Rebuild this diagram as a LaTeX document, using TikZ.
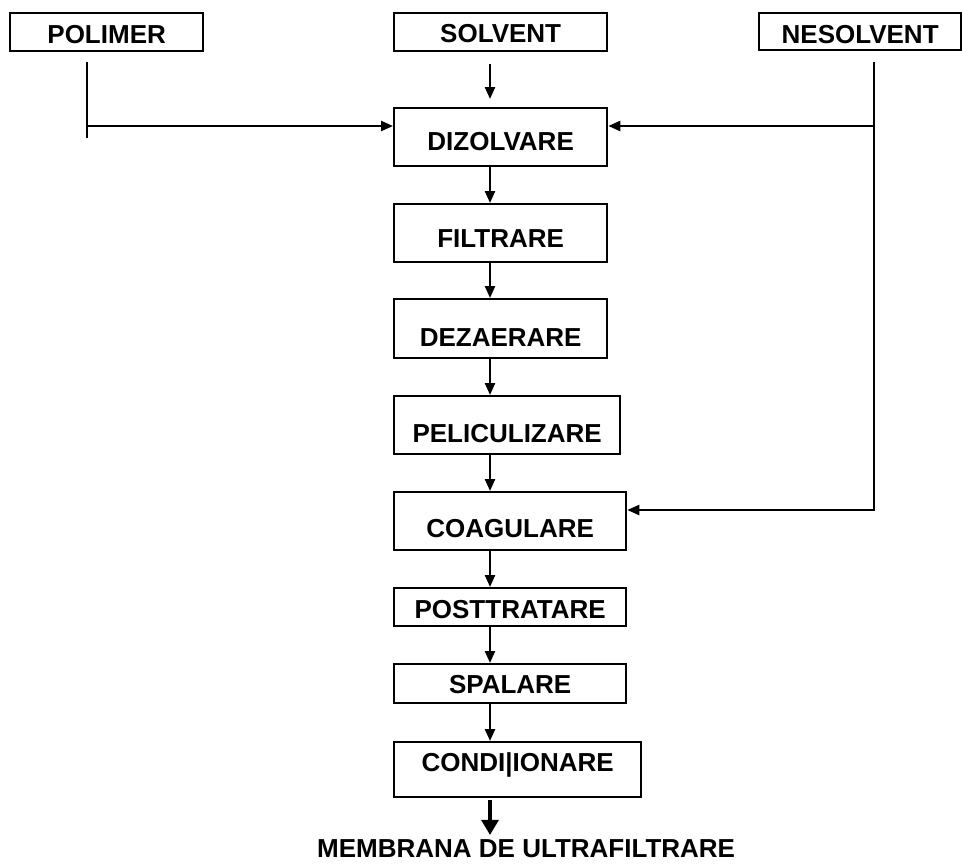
\documentclass[tikz,border=0pt]{standalone}
\usepackage{fontspec}
\setmainfont{Liberation Sans}
\usetikzlibrary{arrows.meta,positioning}

\begin{document}
\begin{tikzpicture}[
    x=1pt, y=-1pt,
    box/.style={rectangle, draw=black, line width=2.3pt, anchor=north west, inner sep=0pt, text centered, font=\fontsize{26}{30}\selectfont\bfseries},
    arrow/.style={-{Triangle[length=12pt,width=10pt]}, line width=2.3pt},
    link/.style={line width=2.3pt},
    bigarrow/.style={-{Triangle[length=15pt,width=17pt]}, line width=3.2pt}
]
\useasboundingbox (0,0) rectangle (962,863);

% inputs
\node[box, minimum width=193pt, text height=30pt, text depth=8pt] (polimer) at (9,12) {POLIMER};
\node[box, minimum width=213pt, text height=29pt, text depth=9pt] (solvent) at (393,12) {SOLVENT};
\node[box, minimum width=202pt, text height=30pt, text depth=7pt] (nesolvent) at (758,12) {NESOLVENT};

% process stages
\node[box, minimum width=213pt, text height=42pt, text depth=16pt] (dizolvare) at (393,107) {DIZOLVARE};
\node[box, minimum width=213pt, text height=43pt, text depth=15pt] (filtrare) at (393,203) {FILTRARE};
\node[box, minimum width=213pt, text height=47pt, text depth=12pt] (dezaerare) at (393,298) {DEZAERARE};
\node[box, minimum width=226pt, text height=46pt, text depth=12pt] (peliculizare) at (393,395) {PELICULIZARE};
\node[box, minimum width=232pt, text height=45pt, text depth=13pt] (coagulare) at (393,491) {COAGULARE};
\node[box, minimum width=232pt, text height=30pt, text depth=8pt] (posttratare) at (393,587) {POSTTRATARE};
\node[box, minimum width=232pt, text height=29pt, text depth=10pt] (spalare) at (393,663) {SPALARE};
\node[box, minimum width=247pt, text height=29pt, text depth=26pt] (conditionare) at (393,741) {CONDI|IONARE};

% product
\node[anchor=base west, inner sep=0pt, font=\fontsize{26}{30}\selectfont\bfseries] (membrana) at (317,857) {MEMBRANA DE ULTRAFILTRARE};

\coordinate (spine) at (490,0);
\coordinate (feed) at (0,126);
\coordinate (poltop) at (87,62);
\coordinate (polend) at (87,138);
\coordinate (nestop) at (874,62);
\coordinate (nesend) at (874,510);

\draw[arrow, shorten <=12pt, shorten >=8pt] (spine |- solvent.south) -- (spine |- dizolvare.north);
\draw[link] (poltop) -- (polend);
\draw[arrow] (poltop |- feed) -- (dizolvare.west |- feed);
\draw[arrow] (nestop) -- (nesend) -- (coagulare.east |- nesend);
\draw[arrow] (nestop |- feed) -- (dizolvare.east |- feed);

\draw[arrow] (spine |- dizolvare.south) -- (spine |- filtrare.north);
\draw[arrow] (spine |- filtrare.south) -- (spine |- dezaerare.north);
\draw[arrow] (spine |- dezaerare.south) -- (spine |- peliculizare.north);
\draw[arrow] (spine |- peliculizare.south) -- (spine |- coagulare.north);
\draw[arrow] (spine |- coagulare.south) -- (spine |- posttratare.north);
\draw[arrow] (spine |- posttratare.south) -- (spine |- spalare.north);
\draw[arrow] (spine |- spalare.south) -- (spine |- conditionare.north);
\draw[bigarrow, shorten <=2pt, shorten >=4pt] (spine |- conditionare.south) -- (spine |- membrana.north);
\end{tikzpicture}
\end{document}
